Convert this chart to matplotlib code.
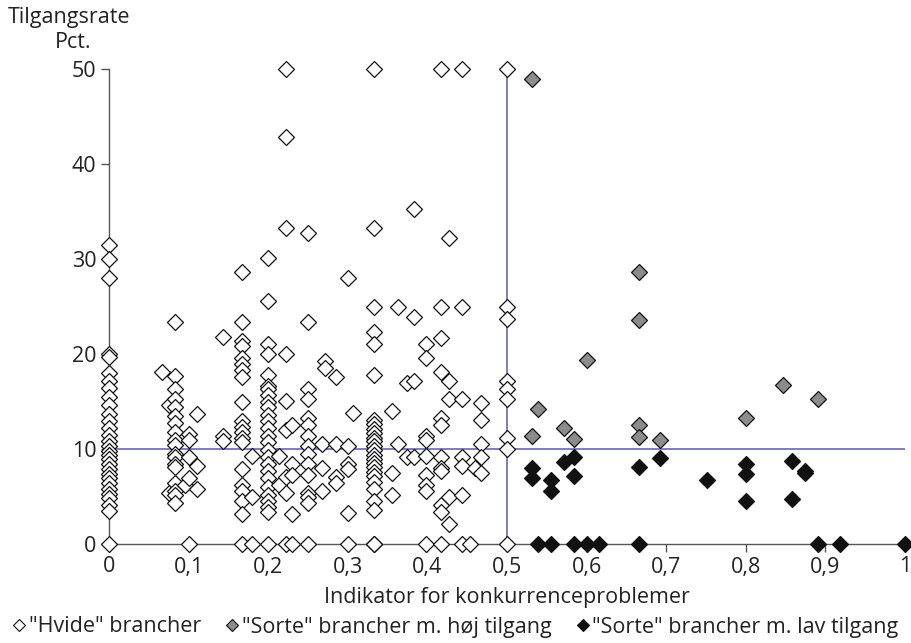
import matplotlib
matplotlib.use("Agg")
import matplotlib.pyplot as plt
from matplotlib.lines import Line2D

plt.rcParams['font.family'] = ['Open Sans', 'DejaVu Sans']

# "Hvide" brancher (white diamonds)
white_x = (
    [0.0] * 30
    + [0.066, 0.076, 0.076]
    + [0.083] * 18
    + [0.095]
    + [0.1] * 5
    + [0.11] * 3
    + [0.143] * 3
    + [0.167] * 20
    + [0.18] * 3
    + [0.2] * 26
    + [0.214] * 2
    + [0.222] * 9
    + [0.23] * 5
    + [0.25] * 15
    + [0.267] * 3
    + [0.271] * 2
    + [0.285] * 4
    + [0.3] * 6
    + [0.306]
    + [0.333] * 26
    + [0.356] * 3
    + [0.363] * 2
    + [0.375] * 2
    + [0.383] * 4
    + [0.398] * 9
    + [0.417] * 12
    + [0.427] * 5
    + [0.444] * 7
    + [0.454, 0.46]
    + [0.467] * 5
    + [0.5] * 9
)
white_y = (
    [31.5, 30, 28, 20, 19.7, 18, 17.2, 16.4, 15.5, 14.6, 13.7, 12.9, 12.2, 11.5, 10.8,
     10.3, 9.8, 9.4, 8.9, 8.4, 7.9, 7.4, 6.9, 6.4, 5.8, 5.3, 4.8, 4.1, 3.5, 0]
    + [18.1, 14.6, 5.4]
    + [23.4, 17.7, 16.3, 15.3, 14.4, 13.5, 12.7, 11.8, 11.0, 10.4, 9.5, 9.2, 8.4, 8.1,
       6.4, 5.6, 5.2, 4.3]
    + [6.2]
    + [11.6, 11.0, 9.2, 6.9, 0]
    + [13.7, 8.2, 5.8]
    + [21.8, 11.4, 10.8]
    + [28.6, 23.4, 21.4, 20.8, 19.6, 18.9, 18.3, 17.6, 15.0, 12.9, 12.3, 11.8, 11.2,
       10.7, 7.9, 6.2, 5.6, 4.5, 3.2, 0]
    + [9.3, 5.0, 0]
    + [30.1, 25.6, 21.1, 20.0, 17.8, 16.6, 16.3, 15.7, 15.0, 14.4, 13.6, 12.9, 12.2,
       11.4, 10.7, 9.9, 9.2, 8.4, 7.7, 6.9, 6.0, 5.2, 4.5, 3.9, 3.4, 0]
    + [9.3, 6.2]
    + [50, 42.8, 33.3, 20.0, 15.1, 12.0, 7.1, 5.4, 0]
    + [12.5, 8.4, 7.3, 3.2, 0]
    + [32.7, 23.4, 16.3, 15.3, 13.3, 12.5, 11.4, 10.3, 9.5, 8.4, 7.3, 5.4, 5.0, 4.3, 0]
    + [10.5, 8.0, 5.6]
    + [19.3, 18.5]
    + [17.6, 10.5, 7.1, 6.4]
    + [28.0, 10.3, 8.4, 7.9, 3.3, 0]
    + [13.8]
    + [50, 33.3, 25.0, 22.3, 21.1, 17.8, 13.1, 12.6, 12.1, 11.7, 11.2, 10.8, 10.3, 9.9,
       9.4, 9.0, 8.5, 8.1, 7.6, 7.2, 6.5, 5.8, 4.5, 3.6, 0, 0]
    + [14.0, 7.5, 5.2]
    + [25.0, 10.5]
    + [17.0, 9.2]
    + [35.3, 23.9, 17.2, 9.2]
    + [21.1, 19.6, 11.4, 11.0, 9.3, 7.3, 6.2, 5.6, 0]
    + [50, 25.0, 21.7, 18.1, 13.3, 12.5, 9.2, 8.0, 7.7, 4.1, 3.4, 0]
    + [32.2, 17.2, 15.3, 5.0, 2.1]
    + [50, 25.0, 15.3, 9.2, 8.2, 5.2, 0]
    + [0, 8.0]
    + [14.8, 13.1, 10.5, 9.2, 7.5]
    + [50, 25.0, 23.7, 17.2, 16.3, 15.3, 11.2, 10.0, 0]
)

# "Sorte" brancher m. høj tilgang (grey diamonds)
high_x = [0.531, 0.531, 0.539, 0.571, 0.584, 0.6, 0.666, 0.666, 0.666, 0.666,
          0.692, 0.8, 0.847, 0.891]
high_y = [48.9, 11.4, 14.2, 12.2, 11.1, 19.4, 28.6, 23.6, 12.5, 11.3,
          10.9, 13.3, 16.7, 15.3]

# "Sorte" brancher m. lav tilgang (black diamonds)
low_x = [0.531, 0.531, 0.539, 0.555, 0.555, 0.555, 0.571, 0.584, 0.584, 0.584,
         0.6, 0.615, 0.666, 0.666, 0.692, 0.751, 0.8, 0.8, 0.8, 0.858, 0.858,
         0.875, 0.875, 0.891, 0.918, 1.0]
low_y = [8.0, 7.0, 0, 6.7, 5.6, 0, 8.6, 9.2, 7.2, 0,
         0, 0, 8.1, 0, 9.1, 6.7, 8.4, 7.4, 4.5, 8.7, 4.7,
         7.7, 7.5, 0, 0, 0]

x_ticks = [0, 0.1, 0.2, 0.3, 0.4, 0.5, 0.6, 0.7, 0.8, 0.9, 1]
x_labels = ['0', '0,1', '0,2', '0,3', '0,4', '0,5', '0,6', '0,7', '0,8', '0,9', '1']
y_ticks = [0, 10, 20, 30, 40, 50]

fs = 15.5
fig = plt.figure(figsize=(9.12, 6.43), dpi=100)
ax = fig.add_axes([109 / 912, 99 / 643, 796 / 912, 475 / 643])

line_col = '#5858b0'
ax.plot([0, 1], [10, 10], color=line_col, lw=1.1, zorder=1)
ax.plot([0.5, 0.5], [0, 50], color=line_col, lw=1.1, zorder=1)

ms = 8.5
ax.plot(white_x, white_y, 'D', ms=ms, mfc='white', mec='#111111', mew=0.9,
        ls='none', clip_on=False, zorder=3)
ax.plot(high_x, high_y, 'D', ms=ms, mfc='#8c8c8c', mec='#111111', mew=0.9,
        ls='none', clip_on=False, zorder=3)
ax.plot(low_x, low_y, 'D', ms=ms, mfc='#111111', mec='#111111', mew=0.9,
        ls='none', clip_on=False, zorder=3)

ax.set_xlim(0, 1)
ax.set_ylim(0, 50)
ax.set_xticks(x_ticks)
ax.set_xticklabels(x_labels)
ax.set_yticks(y_ticks)
for s in ['top', 'right']:
    ax.spines[s].set_visible(False)
for s in ['left', 'bottom']:
    ax.spines[s].set_color('#555555')
    ax.spines[s].set_linewidth(1.0)
ax.tick_params(direction='out', length=6, width=1, color='#555555',
               labelsize=fs, pad=3, labelcolor='#222222')

ax.set_xlabel('Indikator for konkurrenceproblemer', fontsize=fs, labelpad=7,
              color='#222222')
fig.text(69 / 912, 1 - 18 / 643, 'Tilgangsrate', fontsize=fs, ha='center',
         va='center', color='#222222')
fig.text(73 / 912, 1 - 42 / 643, 'Pct.', fontsize=fs, ha='center', va='center',
         color='#222222')

handles = [
    Line2D([], [], marker='D', ls='none', ms=6, mfc='white', mec='#111111', mew=0.8),
    Line2D([], [], marker='D', ls='none', ms=6, mfc='#8c8c8c', mec='#111111', mew=0.8),
    Line2D([], [], marker='D', ls='none', ms=6, mfc='#111111', mec='#111111', mew=0.8),
]
labels = ['"Hvide" brancher', '"Sorte" brancher m. høj tilgang',
          '"Sorte" brancher m. lav tilgang']
fig.legend(handles, labels, loc='center', bbox_to_anchor=(0.5, 1 - 627 / 643),
           ncol=3, frameon=False, fontsize=fs, handlelength=0.5,
           handletextpad=0.2, columnspacing=1.2, borderaxespad=0, borderpad=0,
           labelcolor='#222222')

fig.savefig('out.png', dpi=100)
